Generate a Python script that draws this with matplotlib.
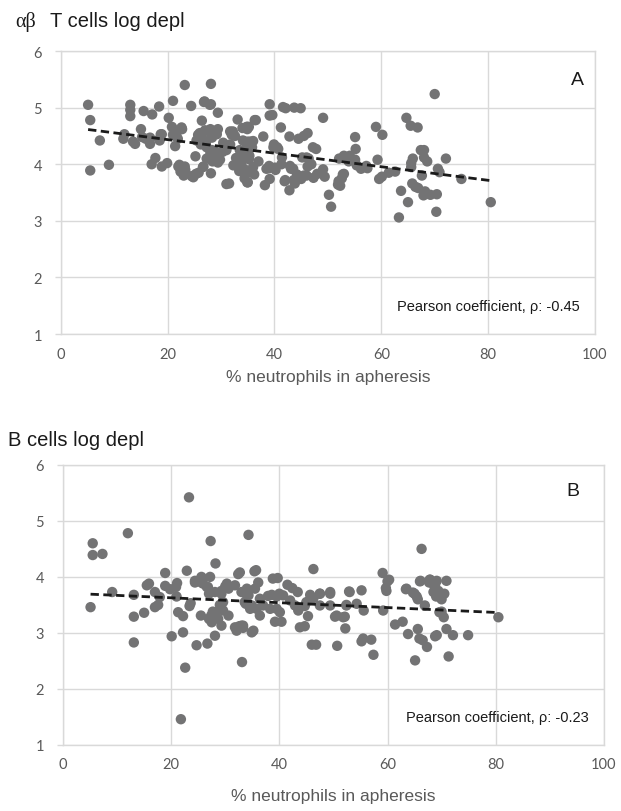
import matplotlib.pyplot as plt
import numpy as np

# panel A: alpha-beta T cells log depletion vs % neutrophils
a_pct = [5.1, 5.5, 7.3, 5.5, 9.0, 11.9, 13.0, 13.0, 13.0, 13.9, 15.0, 15.5, 15.9, 16.7, 17.1, 17.0, 17.7,
         18.4, 18.4, 18.9, 18.9, 19.9, 20.2, 21.0, 20.8, 21.4, 21.9, 22.6, 22.2, 22.4, 23.2, 23.2, 24.4,
         24.5, 25.3, 25.2, 26.4, 26.7, 26.9, 25.7, 28.1, 28.1, 28.1, 26.5, 27.2, 27.7, 28.3, 29.4, 29.4,
         28.2, 29.4, 29.7, 30.4, 31.0, 31.5, 31.7, 32.0, 33.1, 32.3, 32.8, 33.5, 34.1, 34.7, 35.2, 35.8,
         36.2, 34.0, 35.0, 36.5, 35.5, 37.9, 38.2, 39.1, 39.1, 39.6, 39.1, 39.9, 40.5, 39.0, 40.1, 41.3,
         41.2, 41.6, 42.1, 42.0, 42.8, 42.8, 43.1, 43.6, 44.2, 43.7, 44.9, 44.5, 45.5, 45.2, 46.4, 45.5,
         47.2, 47.3, 49.1, 49.1, 50.2, 50.6, 52.1, 52.0, 52.3, 52.8, 54.1, 55.1, 55.2, 55.1, 55.4, 57.2,
         57.4, 59.0, 59.3, 59.6, 60.2, 61.4, 62.6, 63.7, 63.3, 64.7, 65.0, 65.5, 66.8, 65.6, 65.6, 65.8,
         66.4, 66.9, 65.9, 67.4, 68.0, 67.6, 68.0, 68.6, 68.2, 67.9, 69.2, 70.4, 70.0, 70.3, 70.6, 70.9,
         72.1, 75.0, 80.5,
         26.8, 27.9, 26.0, 27.0, 28.0, 29.2, 32.2, 32.6, 34.8, 21.0, 22.0, 21.6, 22.7, 18.7, 18.5, 11.7,
         13.5, 16.7, 15.2, 25.4, 26.2, 27.3, 28.3, 28.9, 28.0, 30.3, 31.7, 31.0, 33.5, 34.0, 34.8, 27.3,
         28.4, 29.2, 29.8, 22.0, 23.3, 23.0, 24.8, 25.8, 26.6, 33.0, 33.8, 33.4, 34.4, 34.9, 35.2, 34.9,
         36.3, 34.9, 34.1, 35.0, 36.0, 39.8, 40.7, 47.8, 34.2, 35.3, 36.0, 34.6, 39.0, 40.2, 41.4, 42.9,
         43.5, 46.0, 46.9, 46.2, 53.0, 53.9, 56.2, 41.9, 43.8, 45.0, 46.0, 48.0, 49.4, 51.9, 52.6, 53.0,
         60.1, 46.2, 37.0, 38.5]
a_depl = [5.05, 4.78, 4.42, 3.89, 3.99, 4.53, 5.05, 4.96, 4.85, 4.36, 4.62, 4.94, 4.45, 4.47, 4.88, 4.00,
          4.11, 5.02, 4.44, 4.53, 3.96, 4.02, 4.82, 5.12, 4.66, 4.32, 4.45, 4.65, 3.99, 3.87, 5.40, 3.96,
          5.03, 3.79, 3.83, 4.14, 4.77, 3.96, 5.11, 4.52, 5.42, 5.06, 3.84, 4.45, 4.40, 4.58, 4.47, 4.62,
          4.91, 4.14, 4.03, 4.18, 4.38, 3.65, 3.66, 4.58, 4.52, 4.79, 3.98, 4.11, 4.08, 3.90, 3.84, 4.09,
          4.30, 3.82, 4.64, 3.68, 4.78, 4.40, 4.49, 3.63, 5.06, 4.86, 4.87, 3.74, 4.35, 4.30, 3.97, 3.94,
          4.00, 4.65, 5.01, 4.99, 3.72, 4.49, 3.54, 3.92, 3.72, 3.82, 5.00, 4.99, 4.45, 4.50, 4.12, 4.10,
          3.80, 4.30, 3.76, 4.82, 3.91, 3.46, 3.25, 4.10, 3.70, 3.62, 3.82, 4.15, 4.48, 4.27, 4.08, 3.98,
          3.97, 3.93, 4.66, 4.08, 3.74, 4.52, 3.85, 3.87, 3.53, 3.06, 4.82, 3.33, 4.68, 4.65, 4.02, 3.95,
          3.66, 3.60, 3.58, 4.10, 4.25, 4.25, 3.80, 4.12, 4.05, 3.52, 3.45, 3.46, 3.47, 5.24, 3.16, 3.92,
          3.86, 4.10, 3.74, 3.33,
          5.10, 5.05, 4.55, 4.60, 4.62, 4.53, 4.58, 4.50, 4.66, 4.52, 4.60, 4.50, 4.62, 4.53, 4.42, 4.45,
          4.40, 4.36, 4.48, 4.42, 4.35, 4.30, 4.25, 4.22, 4.20, 4.22, 4.35, 4.25, 4.25, 4.20, 4.30, 4.10,
          4.05, 4.15, 4.08, 3.96, 3.90, 3.80, 3.77, 3.85, 3.95, 4.10, 4.00, 3.88, 3.75, 3.68, 4.66, 4.62,
          4.78, 4.66, 4.42, 4.40, 4.41, 4.30, 4.27, 4.27, 4.23, 4.15, 3.95, 3.90, 3.93, 3.90, 4.12, 3.97,
          3.92, 4.12, 4.00, 3.96, 4.15, 4.05, 3.92, 3.70, 3.66, 3.74, 3.80, 3.83, 3.78, 3.64, 3.75, 3.83,
          3.78, 4.55, 4.05, 3.92]

# panel B: B cells log depletion vs % neutrophils
b_pct = [5.5, 5.5, 7.3, 12.0, 23.3, 27.3, 34.3, 46.3, 28.2, 5.1, 9.1, 13.1, 13.1, 15.0, 13.1, 15.5, 15.9,
         17.0, 17.0, 17.6, 17.9, 18.9, 18.9, 19.8, 20.9, 21.1, 20.1, 21.0, 21.3, 22.2, 22.2, 22.6, 21.8,
         22.9, 23.4, 23.6, 24.4, 25.0, 25.6, 25.9, 25.5, 24.7, 26.7, 26.8, 27.0, 27.2, 27.0, 27.4, 27.7,
         28.1, 29.0, 29.3, 29.6, 29.3, 30.0, 30.3, 32.4, 31.8, 32.6, 33.3, 33.1, 33.8, 33.8, 35.4, 35.7,
         33.3, 35.2, 38.8, 39.7, 41.5, 42.4, 43.4, 38.6, 39.5, 40.0, 36.4, 39.2, 40.4, 43.8, 44.7, 44.7,
         45.3, 46.0, 46.8, 45.7, 47.5, 45.7, 46.3, 50.3, 52.1, 50.7, 52.2, 52.9, 52.4, 54.3, 55.2, 55.6,
         55.2, 55.5, 57.0, 57.4, 59.1, 59.2, 59.7, 60.3, 61.4, 62.8, 63.4, 64.7, 65.4, 63.8, 66.0, 67.7,
         68.8, 65.6, 65.9, 66.5, 67.3, 65.1, 66.9, 69.1, 69.6, 66.3, 67.9, 69.1, 70.9, 68.8, 68.5, 70.0,
         70.0, 70.4, 80.5, 70.9, 72.1, 68.8, 74.9, 71.3,
         32.7, 34.0, 33.6, 34.6, 35.8, 36.4, 37.0, 36.1, 37.9, 38.3, 39.5, 40.1, 40.7, 42.0, 42.9, 43.5,
         45.0, 47.5, 49.4, 50.6, 51.8, 52.4, 53.0, 49.4, 47.5, 49.4, 24.4, 25.6, 26.6, 28.1, 29.3, 30.6,
         31.8, 33.0, 34.3, 34.9, 35.5, 29.6, 30.6, 28.1, 28.7, 27.5, 29.3, 32.1, 33.0, 34.9, 60.0, 59.8,
         65.0, 65.6, 66.1, 67.8, 68.6, 69.4, 69.0, 70.5, 63.5]
b_depl = [4.60, 4.39, 4.41, 4.78, 5.42, 4.64, 4.75, 4.14, 4.24, 3.46, 3.73, 3.68, 3.29, 3.36, 2.83, 3.85,
          3.88, 3.73, 3.46, 3.50, 3.64, 4.07, 3.84, 3.78, 3.82, 3.89, 2.94, 3.65, 3.37, 3.30, 3.01, 2.38,
          1.46, 4.11, 3.48, 3.53, 3.90, 3.93, 4.00, 3.88, 3.31, 2.78, 2.81, 3.82, 3.70, 4.00, 3.25, 3.31,
          3.38, 2.95, 3.50, 3.43, 3.55, 3.75, 3.83, 3.88, 4.05, 3.10, 3.12, 3.09, 2.48, 3.52, 3.70, 4.10,
          4.12, 3.13, 3.04, 3.97, 3.98, 3.86, 3.80, 3.73, 3.68, 3.65, 3.70, 3.31, 3.20, 3.20, 3.10, 3.12,
          3.48, 3.30, 2.79, 2.79, 3.68, 3.70, 3.60, 3.62, 3.29, 3.29, 2.77, 3.08, 3.74, 3.50, 3.52, 3.76,
          3.40, 2.85, 2.90, 2.88, 2.61, 4.07, 3.40, 3.80, 3.95, 3.15, 3.20, 3.78, 3.72, 3.65, 2.98, 3.92,
          3.90, 3.85, 3.07, 2.90, 2.87, 2.75, 2.51, 3.49, 2.96, 3.37, 4.50, 3.95, 3.93, 3.93, 3.80, 3.73,
          3.60, 3.38, 3.28, 3.28, 3.07, 2.96, 2.94, 2.96, 2.58,
          4.08, 3.79, 3.55, 3.43, 3.43, 3.61, 3.49, 3.90, 3.66, 3.43, 3.43, 3.37, 3.67, 3.58, 3.49, 3.40,
          3.55, 3.49, 3.49, 3.31, 3.28, 3.49, 3.73, 3.73, 3.70, 3.70, 3.93, 3.90, 3.82, 3.73, 3.70, 3.79,
          3.85, 3.73, 3.67, 3.49, 3.79, 3.40, 3.31, 3.37, 3.25, 3.19, 3.13, 3.04, 3.13, 3.01, 3.92, 3.75,
          3.70, 3.60, 3.93, 3.95, 3.85, 3.75, 3.65, 3.70, 3.79]

panels = [
    (a_pct, a_depl, [0.098, 0.5874, 0.860, 0.3485], "A", (0.968, 0.90), "Pearson coefficient, \u03c1: -0.45", 6),
    (b_pct, b_depl, [0.1014, 0.0813, 0.871, 0.345], "B", (0.943, 0.907), "Pearson coefficient, \u03c1: -0.23", 12),
]

grey_txt = "#595959"
fig = plt.figure(figsize=(6.21, 8.12), dpi=100)

for xs, ys, rect, tag, tag_pos, pearson, lpad in panels:
    ax = fig.add_axes(rect)
    ax.scatter(xs, ys, s=56, color="#737374", edgecolors="none", zorder=3)
    # linear trendline
    k, b = np.polyfit(xs, ys, 1)
    xl = np.array([min(xs), max(xs)])
    ax.plot(xl, k * xl + b, color="#1a1a1a", lw=2, ls=(0, (3, 1.6)), zorder=4)
    ax.set_xlim(0, 100)
    ax.set_ylim(1, 6)
    ax.set_xticks(range(0, 101, 20))
    ax.set_yticks(range(1, 7))
    ax.grid(True, color="#d9d9d9", lw=1)
    ax.set_axisbelow(True)
    for s in ax.spines.values():
        s.set_color("#d9d9d9")
        s.set_linewidth(1)
    ax.tick_params(axis="y", length=4.5, color="#d9d9d9", width=1, pad=9, labelsize=10.5, labelcolor=grey_txt)
    ax.tick_params(axis="x", length=0, pad=9, labelsize=10.5, labelcolor=grey_txt)
    for lab in ax.get_xticklabels() + ax.get_yticklabels():
        lab.set_family("Lato")
    ax.text(tag_pos[0], tag_pos[1], tag, transform=ax.transAxes, ha="center", va="center", fontsize=14,
            family="Liberation Sans", color="#1a1a1a")
    ax.text(0.972, 0.10, pearson, transform=ax.transAxes, ha="right", va="center", fontsize=10.5,
            family="Liberation Sans", color="#1a1a1a")
    ax.set_xlabel("% neutrophils in apheresis", fontsize=12.5, color=grey_txt, family="Liberation Sans",
                  labelpad=lpad)

fig.text(0.024, 0.973, "\u03b1\u03b2", fontsize=14.5, family="Liberation Serif", va="center", color="#1a1a1a")
fig.text(0.081, 0.973, "T cells log depl", fontsize=14.5, family="Liberation Sans", va="center", color="#1a1a1a")
fig.text(0.013, 0.458, "B cells log depl", fontsize=14.5, family="Liberation Sans", va="center", color="#1a1a1a")

fig.savefig("out.png", dpi=100)
